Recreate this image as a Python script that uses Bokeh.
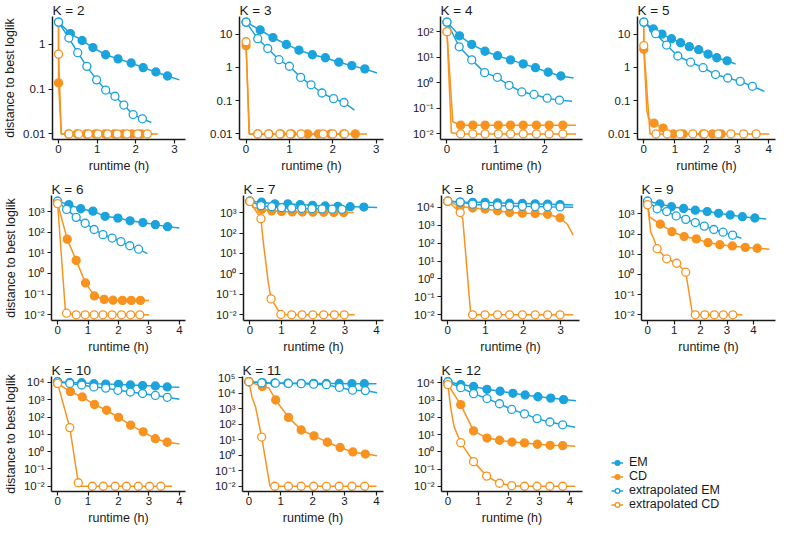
import math
from bokeh.plotting import figure
from bokeh.models import Range1d, FixedTicker, Legend, LegendItem
from bokeh.layouts import column, row
from bokeh.embed import file_html
from bokeh.resources import INLINE

# ---------------- data: (runtime in h, distance to best loglik, observed point marked) -------------
EM_2 = [(0, 3.1, 1), (0.305, 1.72, 1), (0.61, 1.21, 1), (0.89, 0.84, 1), (1.22, 0.58, 1), (1.54, 0.47, 1), (1.88, 0.38, 1), (2.19, 0.30, 1), (2.52, 0.24, 1), (2.82, 0.195, 1), (3.13, 0.16, 0)]
CD_2 = [(0, 3.1, 0), (0, 0.137, 1), (0.07, 0.01, 0), (0.26, 0.01, 1), (0.48, 0.01, 1), (0.72, 0.01, 1), (0.95, 0.01, 1), (1.2, 0.01, 1), (1.44, 0.01, 1), (1.67, 0.01, 1), (1.9, 0.01, 1), (2.14, 0.01, 1), (2.57, 0.01, 0)]
XEM_2 = [(0, 3.1, 1), (0.267, 1.37, 1), (0.496, 0.645, 1), (0.733, 0.32, 1), (0.985, 0.16, 1), (1.22, 0.095, 1), (1.46, 0.069, 1), (1.69, 0.044, 1), (1.93, 0.027, 1), (2.17, 0.0217, 1), (2.40, 0.0179, 0)]
XCD_2 = [(0, 3.1, 0), (0, 0.6, 1), (0.07, 0.01, 0), (0.27, 0.01, 1), (0.52, 0.01, 1), (0.77, 0.01, 1), (1.02, 0.01, 1), (1.27, 0.01, 1), (1.52, 0.01, 1), (1.77, 0.01, 1), (2.05, 0.01, 1), (2.3, 0.01, 1), (2.45, 0.01, 0)]

EM_3 = [(0, 23, 1), (0.326, 13.3, 1), (0.62, 7.9, 1), (0.93, 4.9, 1), (1.22, 3.3, 1), (1.53, 2.4, 1), (1.83, 1.95, 1), (2.14, 1.43, 1), (2.44, 1.13, 1), (2.74, 0.9, 1), (3.02, 0.68, 0)]
CD_3 = [(0, 4.5, 1), (0.08, 0.01, 0), (0.27, 0.01, 1), (0.53, 0.01, 1), (0.8, 0.01, 1), (1.05, 0.01, 1), (1.42, 0.01, 1), (1.67, 0.01, 1), (1.95, 0.01, 1), (2.25, 0.01, 1), (2.52, 0.01, 1), (2.79, 0.01, 0)]
XEM_3 = [(0, 23, 1), (0.27, 7.3, 1), (0.5, 3.7, 1), (0.76, 1.7, 1), (1.0, 1.08, 1), (1.26, 0.5, 1), (1.5, 0.3, 1), (1.75, 0.17, 1), (2.02, 0.115, 1), (2.26, 0.088, 1), (2.5, 0.052, 0)]
XCD_3 = [(0, 5.9, 1), (0.07, 0.01, 0), (0.27, 0.01, 1), (0.52, 0.01, 1), (0.78, 0.01, 1), (1.02, 0.01, 1), (1.27, 0.01, 1), (1.78, 0.01, 1), (2.0, 0.01, 1), (2.27, 0.01, 1), (2.35, 0.01, 0)]

EM_4 = [(0, 238, 1), (0.257, 69, 1), (0.507, 31.9, 1), (0.778, 17.2, 1), (1.035, 11.5, 1), (1.30, 7.9, 1), (1.56, 5.5, 1), (1.81, 3.9, 1), (2.07, 2.6, 1), (2.33, 1.85, 1), (2.59, 1.54, 0)]
CD_4 = [(0, 100, 1), (0.12, 0.03, 0), (0.28, 0.022, 1), (0.53, 0.022, 1), (0.78, 0.022, 1), (1.05, 0.022, 1), (1.3, 0.022, 1), (1.56, 0.022, 1), (1.83, 0.022, 1), (2.09, 0.022, 1), (2.37, 0.022, 1), (2.64, 0.022, 0)]
XEM_4 = [(0, 238, 1), (0.25, 25.7, 1), (0.507, 7.9, 1), (0.77, 2.5, 1), (1.03, 1.64, 1), (1.27, 0.8, 1), (1.53, 0.44, 1), (1.78, 0.35, 1), (2.05, 0.25, 1), (2.30, 0.21, 1), (2.56, 0.19, 0)]
XCD_4 = [(0, 100, 1), (0.09, 0.011, 0), (0.28, 0.01, 1), (0.53, 0.01, 1), (0.78, 0.01, 1), (1.05, 0.01, 1), (1.3, 0.01, 1), (1.56, 0.01, 1), (1.83, 0.01, 1), (2.09, 0.01, 1), (2.37, 0.01, 1), (2.64, 0.01, 0)]

EM_5 = [(0, 23, 1), (0.307, 14.3, 1), (0.583, 10, 1), (0.89, 7.3, 1), (1.18, 5.5, 1), (1.46, 4.2, 1), (1.76, 3.4, 1), (2.06, 2.5, 1), (2.34, 1.95, 1), (2.67, 1.58, 1), (2.94, 1.27, 0)]
CD_5 = [(0, 23, 0), (0, 3.5, 1), (0.1, 0.05, 0), (0.15, 0.03, 0), (0.33, 0.021, 1), (0.62, 0.015, 1), (0.75, 0.01, 0), (0.95, 0.01, 1), (1.26, 0.01, 1), (1.9, 0.01, 1), (2.2, 0.01, 1), (2.48, 0.01, 1), (2.6, 0.01, 0)]
XEM_5 = [(0, 23, 1), (0.38, 10.3, 1), (0.73, 4.7, 1), (1.09, 2.2, 1), (1.5, 1.43, 1), (1.9, 0.98, 1), (2.3, 0.61, 1), (2.69, 0.48, 1), (3.09, 0.38, 1), (3.48, 0.27, 1), (3.87, 0.19, 0)]
XCD_5 = [(0, 23, 0), (0, 4.5, 1), (0.2, 0.01, 0), (0.39, 0.01, 1), (0.75, 0.01, 1), (1.16, 0.01, 1), (1.57, 0.01, 1), (1.94, 0.01, 1), (2.38, 0.01, 1), (2.79, 0.01, 1), (3.2, 0.01, 1), (3.6, 0.01, 1), (4.02, 0.01, 0)]

EM_6 = [(0, 3160, 1), (0.37, 2160, 1), (0.76, 1360, 1), (1.16, 1040, 1), (1.56, 584, 1), (1.98, 480, 1), (2.38, 354, 1), (2.8, 292, 1), (3.21, 232, 1), (3.61, 184, 1), (4.0, 158, 0)]
CD_6 = [(0, 2430, 1), (0.316, 46, 1), (0.61, 4.3, 1), (0.916, 0.35, 1), (1.21, 0.082, 1), (1.53, 0.056, 1), (1.82, 0.051, 1), (2.13, 0.05, 1), (2.42, 0.05, 1), (2.72, 0.05, 1), (3.0, 0.05, 0)]
XEM_6 = [(0, 3160, 1), (0.295, 1260, 1), (0.61, 520, 1), (0.905, 270, 1), (1.2, 135, 1), (1.49, 76, 1), (1.79, 52, 1), (2.08, 35, 1), (2.37, 22, 1), (2.66, 15, 1), (2.95, 9.2, 0)]
XCD_6 = [(0, 2430, 1), (0.26, 0.013, 0), (0.295, 0.012, 1), (0.61, 0.01, 1), (0.905, 0.01, 1), (1.2, 0.01, 1), (1.49, 0.01, 1), (1.79, 0.01, 1), (2.1, 0.01, 1), (2.4, 0.01, 1), (2.7, 0.01, 1), (3.0, 0.01, 0)]

EM_7 = [(0, 3600, 1), (0.37, 3200, 1), (0.79, 2650, 1), (1.2, 2650, 1), (1.59, 2450, 1), (1.98, 2250, 1), (2.38, 2100, 1), (2.78, 2000, 1), (3.17, 1940, 1), (3.6, 1860, 1), (4.02, 1790, 0)]
CD_7 = [(0, 3600, 1), (0.1, 1800, 0), (0.37, 1420, 1), (0.69, 1210, 1), (1.0, 1120, 1), (1.34, 1080, 1), (1.66, 1060, 1), (1.99, 1040, 1), (2.33, 1030, 1), (2.65, 1020, 1), (2.96, 1000, 1), (3.28, 1000, 0)]
XEM_7 = [(0, 3600, 1), (0.35, 2180, 1), (0.69, 1940, 1), (1.0, 1730, 1), (1.32, 1650, 1), (1.64, 1590, 1), (1.96, 1550, 1), (2.28, 1500, 1), (2.6, 1460, 1), (2.91, 1440, 1), (3.23, 1420, 0)]
XCD_7 = [(0, 3500, 1), (0.35, 500, 1), (0.43, 30, 0), (0.58, 0.4, 0), (0.67, 0.06, 1), (0.98, 0.0104, 1), (1.32, 0.01, 1), (1.65, 0.01, 1), (1.99, 0.01, 1), (2.33, 0.01, 1), (2.67, 0.01, 1), (2.98, 0.01, 1), (3.31, 0.01, 0)]

EM_8 = [(0, 22000, 1), (0.33, 19500, 1), (0.66, 19000, 1), (0.99, 19000, 1), (1.32, 17800, 1), (1.64, 17000, 1), (1.98, 16300, 1), (2.32, 15600, 1), (2.65, 15000, 1), (2.98, 14300, 1), (3.33, 13600, 0)]
CD_8 = [(0, 22000, 1), (0.33, 11000, 1), (0.66, 9100, 1), (0.99, 8000, 1), (1.32, 6400, 1), (1.64, 5100, 1), (1.98, 4700, 1), (2.32, 4500, 1), (2.65, 4100, 1), (2.98, 2600, 1), (3.18, 1090, 0), (3.33, 280, 0)]
XEM_8 = [(0, 22000, 1), (0.33, 19500, 1), (0.66, 15000, 1), (0.99, 13100, 1), (1.32, 12500, 1), (1.64, 12000, 1), (1.98, 11400, 1), (2.32, 11000, 1), (2.65, 10700, 1), (2.98, 10500, 1), (3.33, 10000, 0)]
XCD_8 = [(0, 22000, 1), (0.33, 5100, 1), (0.4, 2000, 0), (0.61, 0.01, 0), (0.66, 0.01, 1), (0.99, 0.01, 1), (1.32, 0.01, 1), (1.64, 0.01, 1), (1.98, 0.01, 1), (2.32, 0.01, 1), (2.65, 0.01, 1), (2.98, 0.01, 1), (3.33, 0.01, 0)]

EM_9 = [(0, 4300, 1), (0.46, 3130, 1), (0.9, 2280, 1), (1.36, 1870, 1), (1.8, 1540, 1), (2.25, 1320, 1), (2.68, 1080, 1), (3.12, 890, 1), (3.58, 730, 1), (4.05, 630, 1), (4.48, 560, 0)]
CD_9 = [(0, 2900, 1), (0.08, 700, 0), (0.48, 310, 1), (0.92, 132, 1), (1.38, 76, 1), (1.84, 58, 1), (2.28, 38, 1), (2.73, 30, 1), (3.2, 26, 1), (3.69, 22, 1), (4.14, 20, 1), (4.6, 18, 0)]
XEM_9 = [(0, 4300, 1), (0.36, 1800, 1), (0.72, 1320, 1), (1.08, 800, 1), (1.44, 540, 1), (1.8, 375, 1), (2.14, 250, 1), (2.5, 170, 1), (2.85, 125, 1), (3.21, 89, 1), (3.54, 62, 0)]
XCD_9 = [(0, 2900, 1), (0.12, 125, 0), (0.24, 56, 0), (0.36, 19, 1), (0.72, 6, 1), (1.1, 3.6, 1), (1.44, 1.3, 1), (1.7, 0.01, 0), (1.8, 0.01, 1), (2.16, 0.01, 1), (2.52, 0.01, 1), (2.86, 0.01, 1), (3.22, 0.01, 1), (3.58, 0.01, 0)]

EM_10 = [(0, 11000, 1), (0.4, 10000, 1), (0.79, 9600, 1), (1.19, 8500, 1), (1.58, 8100, 1), (2.0, 7800, 1), (2.39, 7100, 1), (2.79, 6600, 1), (3.21, 6300, 1), (3.6, 5500, 1), (4.0, 5300, 0)]
CD_10 = [(0, 8800, 1), (0.42, 2950, 1), (0.81, 1450, 1), (1.21, 530, 1), (1.61, 247, 1), (2.0, 97, 1), (2.4, 34, 1), (2.81, 14, 1), (3.21, 5.6, 1), (3.6, 3.5, 1), (4.0, 2.8, 0)]
XEM_10 = [(0, 11000, 1), (0.4, 8800, 1), (0.79, 7100, 1), (1.19, 5500, 1), (1.58, 4700, 1), (1.98, 3500, 1), (2.39, 2800, 1), (2.79, 2300, 1), (3.21, 1780, 1), (3.6, 1380, 1), (4.0, 1070, 0)]
XCD_10 = [(0, 8800, 1), (0.4, 24.5, 1), (0.68, 0.016, 1), (0.75, 0.01, 0), (1.14, 0.01, 1), (1.5, 0.01, 1), (1.89, 0.01, 1), (2.26, 0.01, 1), (2.65, 0.01, 1), (3.02, 0.01, 1), (3.39, 0.01, 1), (3.76, 0.01, 0)]

EM_11 = [(0, 56000, 1), (0.42, 49000, 1), (0.81, 47000, 1), (1.22, 45000, 1), (1.64, 44000, 1), (2.03, 44000, 1), (2.43, 43500, 1), (2.83, 43000, 1), (3.23, 42000, 1), (3.62, 41500, 1), (4.0, 41000, 0)]
CD_11 = [(0, 56000, 1), (0.42, 28000, 1), (0.63, 22000, 0), (0.84, 3700, 1), (1.24, 280, 1), (1.64, 43, 1), (2.04, 18, 1), (2.46, 7, 1), (2.86, 3.2, 1), (3.26, 1.65, 1), (3.65, 1.2, 1), (4.02, 0.95, 0)]
XEM_11 = [(0, 56000, 1), (0.4, 47000, 1), (0.83, 45000, 1), (1.24, 43000, 1), (1.64, 42000, 1), (2.03, 39000, 1), (2.43, 36000, 1), (2.84, 24000, 1), (3.25, 16000, 1), (3.65, 15000, 1), (4.02, 11000, 0)]
XCD_11 = [(0, 56000, 1), (0.1, 5400, 0), (0.21, 1300, 0), (0.4, 15, 1), (0.58, 0.1, 0), (0.66, 0.01, 0), (0.81, 0.01, 1), (1.24, 0.01, 1), (1.64, 0.01, 1), (2.03, 0.01, 1), (2.43, 0.01, 1), (2.83, 0.01, 1), (3.23, 0.01, 1), (3.63, 0.01, 1), (4.0, 0.01, 0)]

EM_12 = [(0, 11800, 1), (0.42, 8100, 1), (0.84, 6300, 1), (1.28, 4300, 1), (1.71, 3300, 1), (2.13, 2500, 1), (2.53, 2000, 1), (2.95, 1580, 1), (3.37, 1320, 1), (3.79, 1080, 1), (4.2, 920, 0)]
CD_12 = [(0, 8100, 1), (0.42, 550, 1), (0.84, 16.5, 1), (1.28, 6.3, 1), (1.69, 4.7, 1), (2.1, 3.7, 1), (2.51, 3.3, 1), (2.93, 2.75, 1), (3.35, 2.4, 1), (3.76, 2.3, 1), (4.17, 2.1, 0)]
XEM_12 = [(0, 11800, 1), (0.42, 5300, 1), (0.84, 2400, 1), (1.28, 1240, 1), (1.69, 620, 1), (2.09, 290, 1), (2.51, 160, 1), (2.92, 85, 1), (3.34, 54, 1), (3.76, 37, 1), (4.17, 27, 0)]
XCD_12 = [(0, 8100, 1), (0.09, 370, 0), (0.2, 30, 0), (0.42, 3.4, 1), (0.84, 0.27, 1), (1.27, 0.039, 1), (1.69, 0.015, 1), (2.09, 0.0109, 1), (2.51, 0.01, 1), (2.92, 0.01, 1), (3.34, 0.01, 1), (3.76, 0.01, 1), (4.17, 0.01, 0)]

K_VALUES = [2, 3, 4, 5, 6, 7, 8, 9, 10, 11, 12]
SERIES_NAMES = ["EM", "CD", "extrapolated EM", "extrapolated CD"]
X_TICKS = [0, 1, 2, 3, 4]
DECIMAL_LABELS = {0.01: "0.01", 0.1: "0.1", 1.0: "1", 10.0: "10"}
POWER_LABELS = {0.01: "10\u207b\u00b2", 0.1: "10\u207b\u00b9", 1.0: "10\u2070", 10.0: "10\u00b9",
                100.0: "10\u00b2", 1000.0: "10\u00b3", 10000.0: "10\u2074", 100000.0: "10\u2075"}
DECIMAL_PANELS = [2, 3, 5]
X_LABEL = "runtime (h)"
Y_LABEL = "distance to best loglik"

g = globals()
DATA = {k: [g["EM_%d" % k], g["CD_%d" % k], g["XEM_%d" % k], g["XCD_%d" % k]] for k in K_VALUES}

# ---------------- style / layout ----------------
BLUE = "#1ba3dd"
ORANGE = "#f7931e"
INK = "#1a1a1a"
FONT = "Liberation Sans"
COLORS = [BLUE, ORANGE, BLUE, ORANGE]
FILLED = [True, True, False, False]

COL_W = [200, 200, 200, 177]
ROW_H = [175, 181, 171]
ROW_TOP = [16, 20, 20]
ROW_BOTTOM = [34, 34, 34]
LEFT_B = [[40, 39, 40, 37], [45, 43, 41, 41], [45, 42, 41, 41]]
RIGHT_B = [[15, 17, 18, 2], [15, 17, 21, 2], [15, 17, 18, 2]]


def style_axis(ax):
    ax.axis_line_color = INK
    ax.axis_line_width = 1.5
    ax.major_tick_line_color = INK
    ax.major_tick_line_width = 1.2
    ax.major_tick_out = 4
    ax.major_tick_in = 0
    ax.minor_tick_line_color = None
    ax.major_label_text_font = FONT
    ax.major_label_text_font_size = "11.5px"
    ax.major_label_text_color = INK
    ax.axis_label_text_font = FONT
    ax.axis_label_text_font_size = "12.5px"
    ax.axis_label_text_font_style = "normal"
    ax.axis_label_text_color = INK


def make_panel(k, r, c):
    series = DATA[k]
    xs = [pt[0] for s in series for pt in s]
    ys = [math.log10(pt[1]) for s in series for pt in s]
    xpad = 0.05 * (max(xs) - min(xs))
    ypad = 0.05 * (max(ys) - min(ys))
    ylo, yhi = min(ys) - ypad, max(ys) + ypad
    p = figure(width=COL_W[c], height=ROW_H[r],
               x_range=Range1d(min(xs) - xpad, max(xs) + xpad),
               y_range=Range1d(10 ** ylo, 10 ** yhi), y_axis_type="log",
               output_backend="svg", toolbar_location=None,
               min_border_left=LEFT_B[r][c], min_border_right=RIGHT_B[r][c],
               min_border_top=ROW_TOP[r], min_border_bottom=ROW_BOTTOM[r])
    p.outline_line_color = None
    p.grid.visible = False
    p.title.text = "K = %d" % k
    p.title.text_font = FONT
    p.title.text_font_size = "13.5px"
    p.title.text_font_style = "normal"
    p.title.text_color = INK
    p.title.align = "left"
    p.title.standoff = -3

    labels = DECIMAL_LABELS if k in DECIMAL_PANELS else POWER_LABELS
    yt = [t for t in labels if 10 ** ylo <= t <= 10 ** yhi]
    p.yaxis.ticker = FixedTicker(ticks=yt)
    p.yaxis.major_label_overrides = {t: labels[t] for t in yt}
    p.xaxis.ticker = FixedTicker(ticks=X_TICKS)
    for ax in (p.xaxis[0], p.yaxis[0]):
        style_axis(ax)
    p.xaxis.major_label_standoff = 1
    p.xaxis.axis_label_standoff = 3
    p.yaxis.major_label_standoff = 3
    p.yaxis.axis_label_standoff = 3
    p.xaxis.axis_label = X_LABEL
    if c == 0:
        p.yaxis.axis_label = Y_LABEL

    for s, col in zip(series, COLORS):
        p.line([pt[0] for pt in s], [pt[1] for pt in s], line_color=col, line_width=1.5)
    for s, col, filled in zip(series, COLORS, FILLED):
        mx = [pt[0] for pt in s if pt[2]]
        my = [pt[1] for pt in s if pt[2]]
        p.scatter(mx, my, marker="circle", size=8, line_color=col, line_width=1.3,
                  fill_color=col if filled else "white")
    return p


panels = [make_panel(k, i // 4, i % 4) for i, k in enumerate(K_VALUES)]

# legend panel
lf = figure(width=COL_W[3], height=ROW_H[2], output_backend="svg", toolbar_location=None,
            x_range=Range1d(0, 1), y_range=Range1d(0, 1), x_axis_location=None,
            y_axis_location=None, min_border=0, min_border_left=0, min_border_right=0,
            min_border_top=0, min_border_bottom=0)
lf.outline_line_color = None
lf.grid.visible = False
items = []
nan = float("nan")
for name, col, filled in zip(SERIES_NAMES, COLORS, FILLED):
    rl = lf.line(x=[nan], y=[nan], line_color=col, line_width=1.5)
    rs = lf.scatter(x=[nan], y=[nan], marker="circle", size=8, line_color=col, line_width=1.3,
                    fill_color=col if filled else "white")
    items.append(LegendItem(label=name, renderers=[rl, rs]))
leg = Legend(items=items, location=(11, 16), border_line_color=None, background_fill_alpha=0,
             label_text_font=FONT, label_text_font_size="12.5px", label_text_color=INK,
             glyph_width=12, glyph_height=13, label_height=13, spacing=0, padding=0, margin=0,
             label_standoff=6)
lf.add_layout(leg)

layout = column(row(*panels[0:4]), row(*panels[4:8]), row(*panels[8:11], column(lf)))

open("out.html", "w").write(file_html(layout, INLINE, title="distance to best loglik"))
